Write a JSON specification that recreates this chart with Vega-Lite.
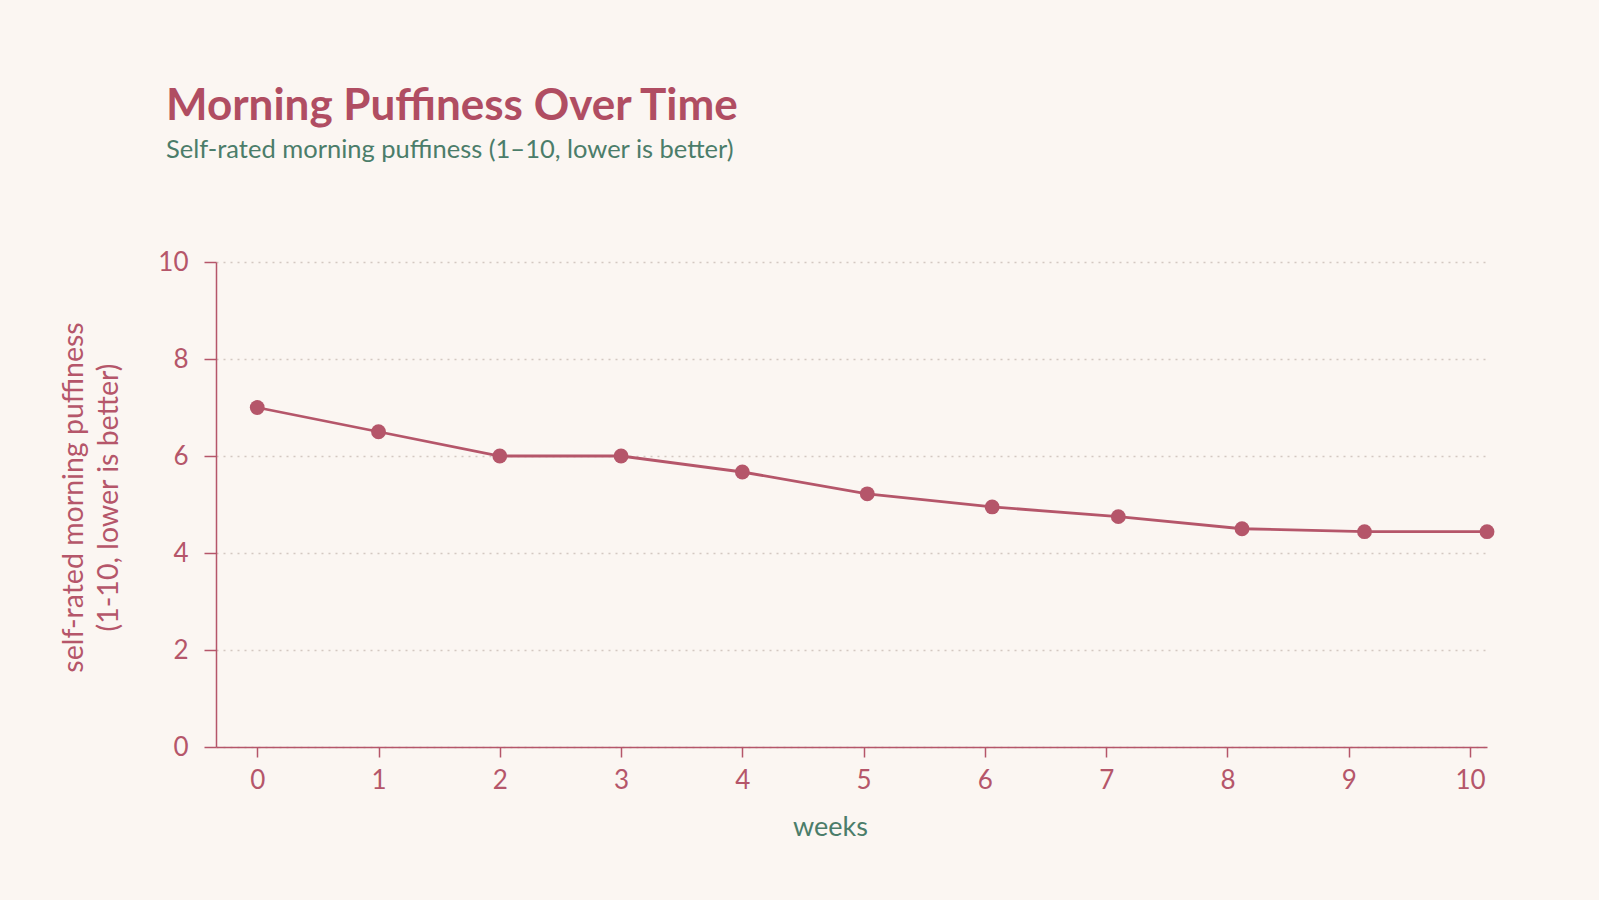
{
  "$schema": "https://vega.github.io/schema/vega-lite/v6.json",
  "width": 1271,
  "height": 485,
  "autosize": {"type": "none"},
  "padding": {"left": 216, "top": 262, "right": 112, "bottom": 153},
  "background": "#fbf6f2",
  "title": {
    "text": "Morning Puffiness Over Time",
    "subtitle": "Self-rated morning puffiness (1–10, lower is better)",
    "anchor": "start",
    "frame": "group",
    "dx": -50,
    "offset": 86,
    "font": "Lato",
    "fontSize": 44,
    "fontWeight": "bold",
    "color": "#b04d62",
    "subtitleFont": "Lato",
    "subtitleFontSize": 25.5,
    "subtitleColor": "#4b7d6a",
    "subtitlePadding": 9
  },
  "data": {
    "values": [
      {"week": 0, "puffiness": 7.0},
      {"week": 1, "puffiness": 6.5},
      {"week": 2, "puffiness": 6.0},
      {"week": 3, "puffiness": 6.0},
      {"week": 4, "puffiness": 5.67},
      {"week": 5.03, "puffiness": 5.22},
      {"week": 6.06, "puffiness": 4.95},
      {"week": 7.1, "puffiness": 4.75},
      {"week": 8.12, "puffiness": 4.5},
      {"week": 9.13, "puffiness": 4.44},
      {"week": 10.14, "puffiness": 4.44}
    ]
  },
  "encoding": {
    "x": {
      "field": "week",
      "type": "quantitative",
      "scale": {"domain": [-0.34, 10.14], "nice": false, "zero": false},
      "axis": {
        "title": "weeks",
        "values": [0, 1, 2, 3, 4, 5, 6, 7, 8, 9, 10],
        "grid": false,
        "labelFlush": false,
        "tickSize": 10,
        "labelPadding": 10,
        "titlePadding": 21,
        "titleX": 614,
        "titleColor": "#4b7d6a"
      }
    },
    "y": {
      "field": "puffiness",
      "type": "quantitative",
      "scale": {"domain": [0, 10], "nice": false},
      "axis": {
        "title": ["self-rated morning puffiness", "(1-10, lower is better)"],
        "values": [0, 2, 4, 6, 8, 10],
        "tickSize": 12,
        "labelPadding": 16,
        "titlePadding": 34,
        "titleY": 235,
        "titleFontSize": 28.5,
        "titleLineHeight": 35,
        "gridColor": "#d3c8c1",
        "gridDash": [2, 5],
        "gridWidth": 1.3
      }
    }
  },
  "layer": [
    {"mark": {"type": "line", "color": "#b5566a", "strokeWidth": 2.8}},
    {"mark": {"type": "circle", "color": "#b5566a", "size": 220, "opacity": 1}}
  ],
  "config": {
    "view": {"stroke": null},
    "axis": {
      "labelFont": "Lato",
      "labelFontSize": 26,
      "labelColor": "#b5566a",
      "titleFont": "Lato",
      "titleFontSize": 27,
      "titleFontWeight": "normal",
      "titleColor": "#b5566a",
      "domainColor": "#b5566a",
      "domainWidth": 1.5,
      "tickColor": "#b5566a",
      "tickWidth": 1.5
    }
  }
}
